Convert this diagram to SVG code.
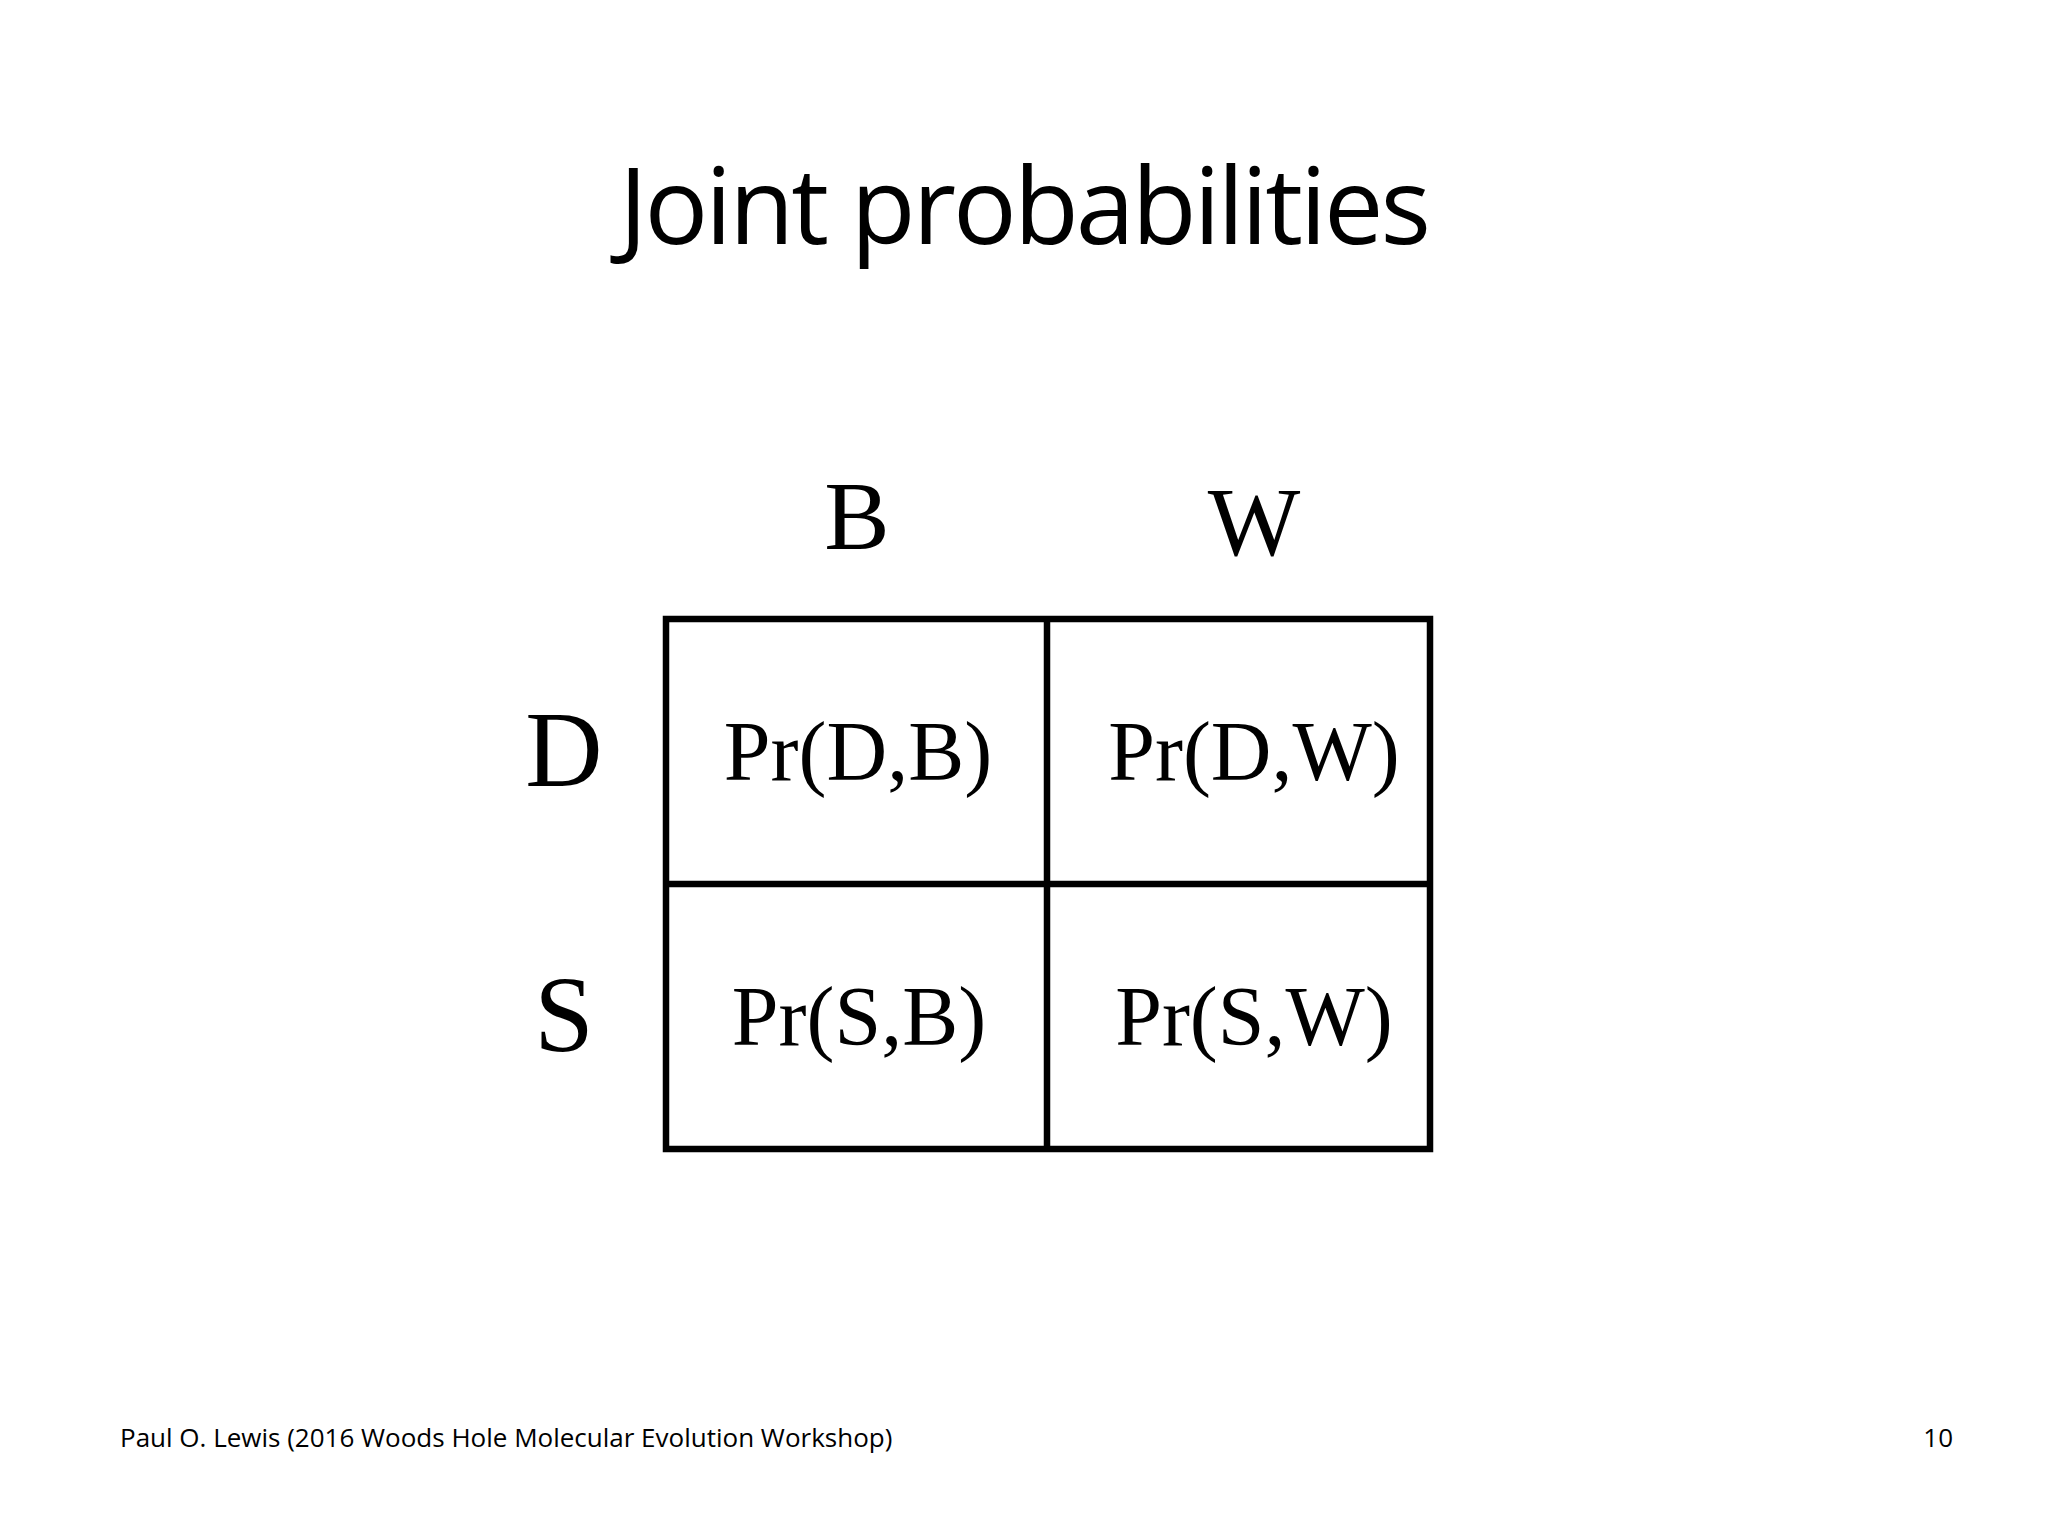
<svg xmlns="http://www.w3.org/2000/svg" width="2048" height="1536" viewBox="0 0 2048 1536">
<style>
.s{font-family:"Liberation Serif","Times New Roman",serif;fill:#000;text-anchor:middle}
.c{font-size:84px}
.h{font-size:98px}
.f{font-family:"Open Sans","DejaVu Sans",sans-serif;font-size:26px;fill:#000}
line,rect{stroke:#000;stroke-width:6.5;fill:none}
</style>
<rect width="2048" height="1536" fill="#fff" style="stroke:none"/>
<text x="1025" y="244" font-family="'Open Sans','DejaVu Sans',sans-serif" font-size="106" text-anchor="middle" textLength="812">Joint probabilities</text>
<g id="table">
<rect x="666" y="619" width="764" height="530"/>
<line x1="1047" y1="619" x2="1047" y2="1149"/>
<line x1="666" y1="884" x2="1430" y2="884"/>
</g>
<g id="colB"><text class="s h" x="857" y="549">B</text></g>
<g id="colW"><text class="s h" x="1254" y="555">W</text></g>
<g id="rowD"><text class="s" font-size="107" x="564" y="786">D</text></g>
<g id="rowS"><text class="s" font-size="107" x="564" y="1051">S</text></g>
<g id="cellDB"><text class="s c" x="858" y="780">Pr(D,B)</text></g>
<g id="cellDW"><text class="s c" x="1254" y="780">Pr(D,W)</text></g>
<g id="cellSB"><text class="s c" x="859" y="1045">Pr(S,B)</text></g>
<g id="cellSW"><text class="s c" x="1254" y="1045">Pr(S,W)</text></g>
<text class="f" x="120" y="1447">Paul O. Lewis (2016 Woods Hole Molecular Evolution Workshop)</text>
<text class="f" x="1953" y="1447" text-anchor="end">10</text>
</svg>
